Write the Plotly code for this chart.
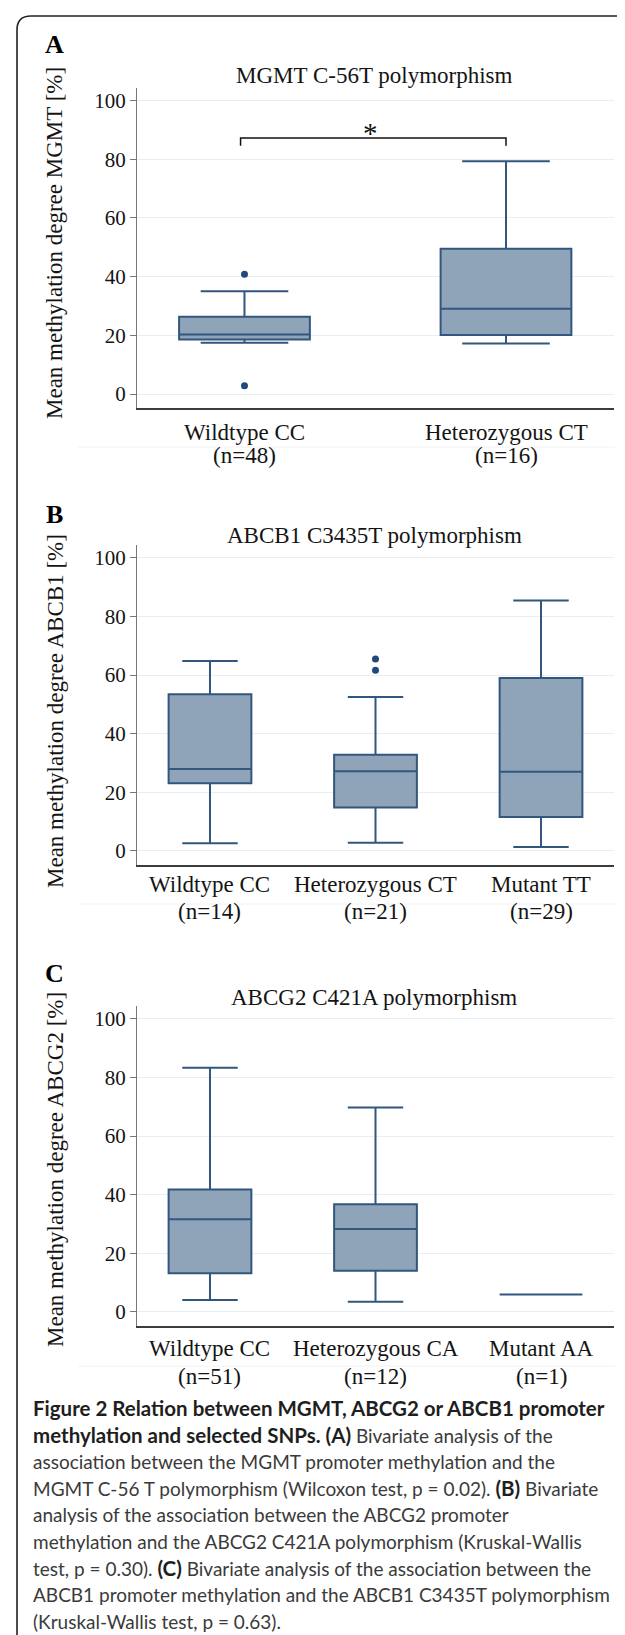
import plotly.graph_objects as go

W, H = 625, 1635

# ---------------- data ----------------
# Panel A: MGMT C-56T
a_title = "MGMT C-56T polymorphism"
a_ylabel = "Mean methylation degree MGMT [%]"
a_groups = ["Wildtype CC", "Heterozygous CT"]
a_n = ["(n=48)", "(n=16)"]
a_lower = [17.5, 17.2]
a_q1 = [18.6, 20.1]
a_median = [20.3, 29.1]
a_q3 = [26.3, 49.5]
a_upper = [35.0, 79.3]
a_out_group = [0, 0]
a_out_value = [40.8, 2.8]
a_sig_text = "*"
a_sig_level = 87.3

# Panel B: ABCB1 C3435T
b_title = "ABCB1 C3435T polymorphism"
b_ylabel = "Mean methylation degree ABCB1 [%]"
b_groups = ["Wildtype CC", "Heterozygous CT", "Mutant TT"]
b_n = ["(n=14)", "(n=21)", "(n=29)"]
b_lower = [2.6, 2.8, 1.4]
b_q1 = [23.1, 14.8, 11.6]
b_median = [28.0, 27.2, 27.0]
b_q3 = [53.5, 32.8, 59.0]
b_upper = [64.8, 52.5, 85.5]
b_out_group = [1, 1]
b_out_value = [65.5, 61.7]

# Panel C: ABCG2 C421A
c_title = "ABCG2 C421A polymorphism"
c_ylabel = "Mean methylation degree ABCG2 [%]"
c_groups = ["Wildtype CC", "Heterozygous CA", "Mutant AA"]
c_n = ["(n=51)", "(n=12)", "(n=1)"]
c_lower = [4.1, 3.5, 6.0]
c_q1 = [13.2, 14.1, 6.0]
c_median = [31.6, 28.3, 6.0]
c_q3 = [41.8, 36.8, 6.0]
c_upper = [83.3, 69.8, 6.0]

y_ticks = [0, 20, 40, 60, 80, 100]

B0 = '<b><span style="font-size:20.5px;fill:#1e1e1e">'
B1 = '</span></b>'
caption_lines = [
    B0 + "Figure 2 Relation between MGMT, ABCG2 or ABCB1 promoter" + B1,
    B0 + "methylation and selected SNPs. (A)" + B1 + " Bivariate analysis of the",
    "association between the MGMT promoter methylation and the",
    "MGMT C-56 T polymorphism (Wilcoxon test, p = 0.02). " + B0 + "(B)" + B1 + " Bivariate",
    "analysis of the association between the ABCG2 promoter",
    "methylation and the ABCG2 C421A polymorphism (Kruskal-Wallis",
    "test, p = 0.30). " + B0 + "(C)" + B1 + " Bivariate analysis of the association between the",
    "ABCB1 promoter methylation and the ABCB1 C3435T polymorphism",
    "(Kruskal-Wallis test, p = 0.63).",
]

# ---------------- styling ----------------
FILL = "#8fa3b9"
LINE = "#33567f"
DOT = "#1f4a7a"
GRID = "#e6eff2"
SERIF = "Liberation Serif, Times New Roman, serif"
TXT = "#141414"


def px_x(x):
    return x / W


def px_y(y):
    return 1 - y / H


fig = go.Figure()

panels = [
    dict(key="", title=a_title, ylabel=a_ylabel, groups=a_groups, n=a_n,
         lower=a_lower, q1=a_q1, med=a_median, q3=a_q3, upper=a_upper,
         out_g=a_out_group, out_v=a_out_value,
         top=80, bottom=400, xr=[-0.411, 1.413], yr=[-4.77, 104.3],
         letter="A", letter_y=37, title_y=68, lab_y=(425, 448), ylab_y=235),
    dict(key="2", title=b_title, ylabel=b_ylabel, groups=b_groups, n=b_n,
         lower=b_lower, q1=b_q1, med=b_median, q3=b_q3, upper=b_upper,
         out_g=b_out_group, out_v=b_out_value,
         top=537, bottom=857, xr=[-0.441, 2.441], yr=[-4.78, 104.4],
         letter="B", letter_y=507, title_y=527, lab_y=(876, 904), ylab_y=703),
    dict(key="3", title=c_title, ylabel=c_ylabel, groups=c_groups, n=c_n,
         lower=c_lower, q1=c_q1, med=c_median, q3=c_q3, upper=c_upper,
         out_g=[], out_v=[],
         top=998, bottom=1318, xr=[-0.441, 2.441], yr=[-4.78, 104.4],
         letter="C", letter_y=965, title_y=989, lab_y=(1340, 1368), ylab_y=1162),
]

annotations = []
shapes = []
layout_axes = {}

for p in panels:
    k = p["key"]
    xa, ya = "x" + k, "y" + k
    pos = list(range(len(p["groups"])))
    fig.add_trace(go.Box(
        x=pos, q1=p["q1"], median=p["med"], q3=p["q3"],
        lowerfence=p["lower"], upperfence=p["upper"],
        width=0.5, whiskerwidth=0.67, fillcolor=FILL,
        line=dict(color=LINE, width=2), boxpoints=False,
        xaxis=xa, yaxis=ya, showlegend=False, hoverinfo="skip"))
    if p["out_v"]:
        fig.add_trace(go.Scatter(
            x=p["out_g"], y=p["out_v"], mode="markers",
            marker=dict(color=DOT, size=7), xaxis=xa, yaxis=ya,
            showlegend=False, hoverinfo="skip"))
    layout_axes["xaxis" + k] = dict(
        domain=[px_x(129), px_x(606)], range=p["xr"], anchor=ya,
        showline=True, linecolor="#3c3c3c", linewidth=1.5,
        showgrid=False, zeroline=False, showticklabels=False, ticks="",
        fixedrange=True)
    layout_axes["yaxis" + k] = dict(
        domain=[px_y(p["bottom"]), px_y(p["top"])], range=p["yr"], anchor=xa,
        tickvals=y_ticks, showgrid=True, gridcolor=GRID, gridwidth=1,
        showline=True, linecolor="#777777", linewidth=1.2,
        ticks="outside", ticklen=6, tickcolor="#777777", tickwidth=1.2,
        tickfont=dict(family=SERIF, size=21, color=TXT),
        zeroline=False, fixedrange=True)
    # category labels
    for i, (g, n) in enumerate(zip(p["groups"], p["n"])):
        annotations.append(dict(x=i, xref=xa, y=px_y(p["lab_y"][0]), yref="paper",
                                text=g, showarrow=False, xanchor="center", yanchor="middle",
                                font=dict(family=SERIF, size=23, color=TXT)))
        annotations.append(dict(x=i, xref=xa, y=px_y(p["lab_y"][1]), yref="paper",
                                text=n, showarrow=False, xanchor="center", yanchor="middle",
                                font=dict(family=SERIF, size=23, color=TXT)))
    # panel title
    annotations.append(dict(x=px_x(366), xref="paper", y=px_y(p["title_y"]), yref="paper",
                            text=p["title"], showarrow=False, xanchor="center", yanchor="middle",
                            font=dict(family=SERIF, size=23, color=TXT)))
    # panel letter
    annotations.append(dict(x=px_x(46), xref="paper", y=px_y(p["letter_y"]), yref="paper",
                            text="<b>" + p["letter"] + "</b>", showarrow=False,
                            xanchor="center", yanchor="middle",
                            font=dict(family=SERIF, size=26, color="#000000")))
    # y axis label
    annotations.append(dict(x=px_x(47), xref="paper", y=px_y(p["ylab_y"]), yref="paper",
                            text=p["ylabel"], showarrow=False, textangle=-90,
                            xanchor="center", yanchor="middle",
                            font=dict(family=SERIF, size=23, color=TXT)))

# significance bracket in panel A (between the two groups)
br_left, br_right = -0.015, 1.0
shapes.append(dict(type="path", xref="x", yref="y",
                   path=f"M {br_left},{a_sig_level - 2.7} L {br_left},{a_sig_level} "
                        f"L {br_right},{a_sig_level} L {br_right},{a_sig_level - 2.7}",
                   line=dict(color="#111111", width=1.5)))
annotations.append(dict(x=(br_left + br_right) / 2 - 0.01, xref="x", y=a_sig_level + 1.6, yref="y",
                        text=a_sig_text, showarrow=False, xanchor="center", yanchor="middle",
                        font=dict(family=SERIF, size=29, color="#111111")))

# faint scan lines seen in the figure
for yy in (439, 896, 1358):
    shapes.append(dict(type="line", xref="paper", yref="paper",
                       x0=px_x(70), x1=px_x(607), y0=px_y(yy), y1=px_y(yy),
                       line=dict(color="#f2f2f2", width=1)))

# outer rounded frame (opens to right and bottom)
r = 14
shapes.append(dict(type="path", xref="paper", yref="paper",
                   path=(f"M {px_x(9)},{px_y(1650)} L {px_x(9)},{px_y(8 + r)} "
                         f"Q {px_x(9)},{px_y(8)} {px_x(9 + r)},{px_y(8)} L {px_x(640)},{px_y(8)}"),
                   line=dict(color="#222222", width=1.6)))

# caption
for i, line in enumerate(caption_lines):
    annotations.append(dict(x=px_x(23), xref="paper", y=px_y(1400 + i * 26.7), yref="paper",
                            text=line, showarrow=False, xanchor="left", yanchor="middle",
                            font=dict(family="Lato, Roboto, sans-serif", size=19, color="#3a3a3a")))

fig.update_layout(
    width=W, height=H, margin=dict(l=0, r=0, t=0, b=0),
    paper_bgcolor="white", plot_bgcolor="white",
    annotations=annotations, shapes=shapes, showlegend=False,
    **layout_axes)

fig.write_html("out.html")
